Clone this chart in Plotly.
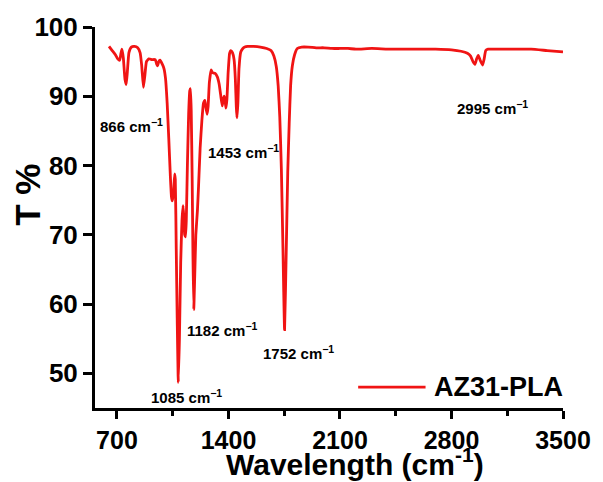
import plotly.graph_objects as go

# FTIR transmittance spectrum of the AZ31-PLA coating
wavenumber = [
    650, 670, 690, 705, 717, 725, 731, 740, 750, 758, 765, 775, 790, 810, 830,
    845, 855, 866, 875, 885, 900, 920, 940, 950, 955, 962, 970, 985, 995, 1005,
    1015, 1025, 1035, 1042, 1047, 1055, 1062, 1066, 1072, 1078, 1085, 1092, 1100,
    1108, 1115, 1120, 1125, 1130, 1135, 1142, 1150, 1157, 1161, 1166, 1172, 1177,
    1182, 1188, 1195, 1205, 1212, 1222, 1233, 1243, 1252, 1258, 1266, 1272, 1280,
    1291, 1300, 1316, 1330, 1341, 1352, 1361, 1367, 1373, 1379, 1384, 1390, 1398,
    1407, 1415, 1425, 1435, 1443, 1449, 1453, 1459, 1466, 1477, 1490, 1502, 1520,
    1560, 1600, 1640, 1667, 1685, 1700, 1712, 1722, 1732, 1742, 1752, 1762, 1772,
    1781, 1790, 1801, 1815, 1832, 1860, 1900, 1950, 2000, 2050, 2100, 2150, 2200,
    2300, 2400, 2500, 2600, 2700, 2800, 2860, 2900, 2920, 2935, 2947, 2958, 2968,
    2980, 2995, 3005, 3015, 3030, 3100, 3200, 3300, 3400, 3500,
]
transmittance = [
    97.2, 96.6, 96.0, 95.4, 95.2, 96.2, 96.8, 95.5, 92.5, 91.7, 93.5, 96.3, 97.1, 97.2, 97.0,
    96.3, 94.5, 91.3, 93.0, 95.0, 95.4, 95.3, 95.3, 94.6, 94.4, 95.0, 95.2, 94.6, 94.0, 92.5,
    89.0, 84.0, 78.5, 75.5, 74.9, 76.0, 78.8, 78.0, 68.0, 58.0, 48.7, 55.0, 66.0,
    72.0, 74.2, 72.5, 70.0, 69.7, 72.0, 80.0, 87.5, 90.8, 91.1, 88.0, 78.0, 67.0,
    59.2, 64.0, 70.0, 73.5, 77.0, 82.5, 86.5, 89.0, 89.4, 88.4, 87.4, 88.5, 92.0,
    93.8, 93.4, 93.3, 92.8, 91.8, 90.0, 88.6, 89.5, 90.0, 89.3, 88.3, 89.5, 93.5,
    96.2, 96.6, 96.3, 95.3, 92.5, 88.5, 86.9, 89.0, 94.0, 96.4, 96.9, 97.1, 97.2,
    97.2, 97.1, 96.9, 96.6, 95.8, 94.3, 91.5, 87.0, 79.5, 68.0, 56.3, 67.0, 79.0,
    86.0, 91.5, 94.4, 96.0, 96.9, 97.1, 97.1, 97.0, 97.0, 96.9, 96.9, 96.9, 96.8,
    96.9, 96.8, 96.8, 96.8, 96.8, 96.7, 96.5, 96.2, 95.8, 95.0, 94.6, 95.4, 95.9,
    95.2, 94.5, 95.4, 96.6, 96.8, 96.8, 96.8, 96.8, 96.6, 96.4,
]

# Labelled absorption bands: (text x, text y, label)
band_x = [580, 1256, 1130, 903, 1605, 2823]
band_y = [85.8, 82.0, 56.4, 46.6, 53.0, 88.4]
band_labels = ["866", "1453", "1182", "1085", "1752", "2995"]

x_ticks = [700, 1400, 2100, 2800, 3500]
y_ticks = [50, 60, 70, 80, 90, 100]

series_name = "AZ31-PLA"
line_color = "#f01414"
font_family = "Liberation Sans, Arial, sans-serif"

fig = go.Figure()
fig.add_trace(go.Scatter(
    x=wavenumber, y=transmittance, mode="lines", name=series_name,
    line=dict(color=line_color, width=2.8, shape="spline", smoothing=0.4),
    showlegend=False,
))

for bx, by, lab in zip(band_x, band_y, band_labels):
    fig.add_annotation(
        x=bx, y=by, xref="x", yref="y", xanchor="left", yanchor="middle",
        text=f"{lab} cm<sup>\u22121</sup>", showarrow=False,
        font=dict(family=font_family, size=15, color="black", weight="bold"),
    )

# Legend sample and label
fig.add_shape(type="line", xref="paper", yref="paper",
              x0=0.5623, x1=0.7063, y0=0.0548, y1=0.0548,
              line=dict(color=line_color, width=2.8))
fig.add_annotation(
    x=0.721, y=0.0548, xref="paper", yref="paper", xanchor="left", yanchor="middle",
    text=series_name, showarrow=False,
    font=dict(family=font_family, size=27, color="black", weight="bold"),
)

# Axis titles
fig.add_annotation(
    x=0.5545, y=-0.142, xref="paper", yref="paper", xanchor="center", yanchor="middle",
    text="Wavelength (cm<sup>-1</sup>)", showarrow=False,
    font=dict(family=font_family, size=30, color="black", weight="bold"),
)
fig.add_annotation(
    x=-0.145, y=0.56, xref="paper", yref="paper", xanchor="center", yanchor="middle",
    text="T %", textangle=-90, showarrow=False,
    font=dict(family=font_family, size=35, color="black", weight="bold"),
)

fig.update_layout(
    width=603, height=482,
    margin=dict(l=95, r=34, t=24, b=74),
    plot_bgcolor="white", paper_bgcolor="white",
    font=dict(family=font_family, color="black"),
)
fig.update_xaxes(
    range=[562, 3500], tickvals=x_ticks, ticktext=[str(v) for v in x_ticks],
    showgrid=False, zeroline=False, showline=True, linecolor="black", linewidth=3,
    ticks="outside", ticklen=8, tickwidth=2.5, tickcolor="black",
    tickfont=dict(family=font_family, size=25, color="black", weight="bold"),
    minor=dict(tickvals=[1050, 1750, 2450, 3150], ticks="outside", ticklen=5,
               tickwidth=2.5, tickcolor="black"),
)
fig.update_yaxes(
    range=[45, 100], tickvals=y_ticks, ticktext=[str(v) for v in y_ticks],
    showgrid=False, zeroline=False, showline=True, linecolor="black", linewidth=3,
    ticks="outside", ticklen=9, tickwidth=2.5, tickcolor="black",
    tickfont=dict(family=font_family, size=26, color="black", weight="bold"),
)

fig.write_html("out.html")
